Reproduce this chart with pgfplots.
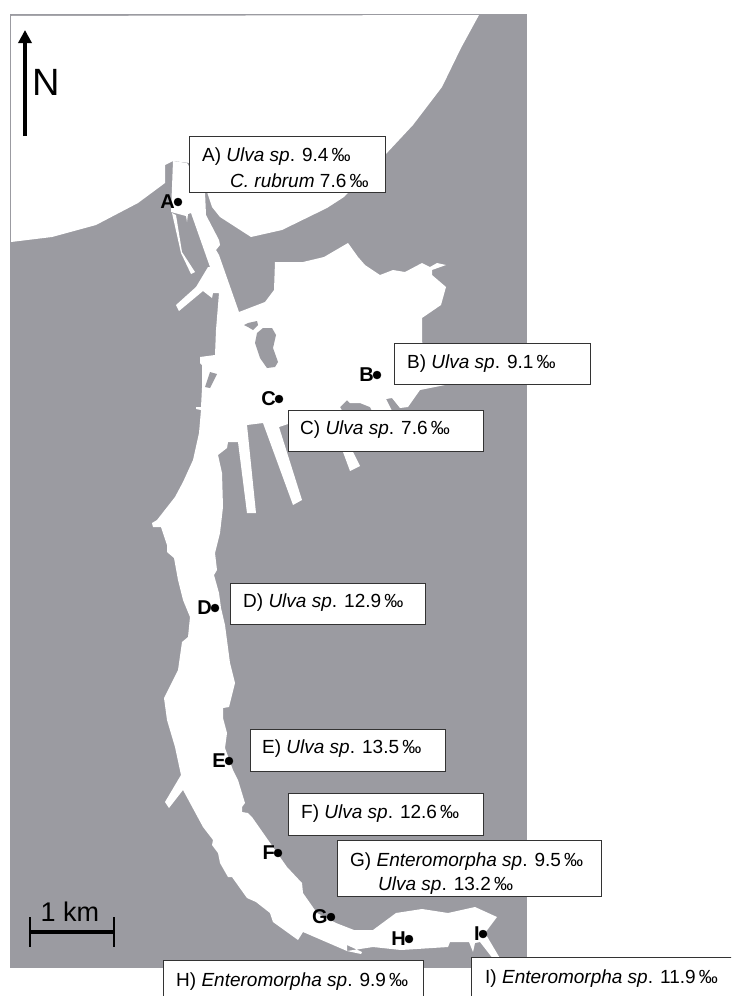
\documentclass[border=0pt]{standalone}
\usepackage{fontspec}
\setmainfont{Liberation Sans}
\usepackage{pgfplots}
\pgfplotsset{compat=1.18}
\usetikzlibrary{arrows.meta}
\definecolor{land}{RGB}{155,155,161}
\newcommand{\lab}{\fontsize{19}{22}\selectfont}
\newcommand{\pmil}{\,‰}
\begin{document}
\begin{tikzpicture}
\begin{axis}[
  scale only axis, width=731pt, height=996pt,
  xmin=0, xmax=731, ymin=0, ymax=996, y dir=reverse,
  hide axis,
]
% page and land
\addplot[fill=white, draw=none] coordinates {(0,0) (731,0) (731,996) (0,996)} --cycle;
\addplot[fill=land, draw=none] coordinates {(10,14) (527,14) (527,968) (10,968)} --cycle;
% sea
\addplot[fill=white, draw=none] coordinates {
  (11,16) (479,15) (461,48) (442,87) (413,125) (385,155) (344,197) (327,208)
  (282,230) (251,237) (220,217) (212,207) (207,192) (190,163) (173,161) (165,165)
  (165,183) (138,203) (96,225) (52,237) (11,242)
} --cycle;
% lagoon
\addplot[fill=white, draw=none] coordinates {
  (173,161) (172,187) (171,212) (186,216) (187,222) (188,214) (191,213) (210,267)
  (208,267) (196,287) (176,305) (179,311) (203,291) (212,298) (213,293) (219,293)
  (216,330) (215,355) (200,357) (200,363) (202,365) (202,388) (201,407) (196,407)
  (196,409) (201,410) (199,433) (193,460) (183,482) (175,497) (157,520) (152,523)
  (153,527) (161,527) (167,545) (167,552) (174,558) (178,580) (183,600) (190,617)
  (188,637) (182,642) (178,670) (164,698) (167,720) (175,747) (181,775) (165,802)
  (169,808) (183,790) (203,827) (213,840) (212,845) (218,853) (220,863) (228,877)
  (232,877) (247,898) (256,902) (270,913) (273,922) (298,940) (303,932) (347,951)
  (347,945) (362,952) (361,954) (347,951) (373,947) (401,950) (448,947) (450,942)
  (469,942) (473,952) (475,943) (480,942) (494,960) (501,960) (485,933) (497,917)
  (475,907) (448,913) (422,909) (396,913) (373,930) (354,930) (336,923) (317,913)
  (303,893) (302,883) (287,867) (273,847) (252,817) (248,813) (242,812) (242,807)
  (245,803) (238,780) (233,770) (225,748) (227,733) (223,718) (223,708) (229,707)
  (235,683) (230,663) (225,625) (221,608) (219,593) (214,575) (217,570) (215,553) (220,533)
  (223,507) (222,473) (218,455) (227,448) (228,442) (238,442) (247,513) (256,513)
  (247,425) (263,423) (293,505) (302,500) (279,427) (288,424) (338,425) (343,452)
  (350,471) (360,466) (353,452) (350,425) (340,407) (347,400) (350,403) (360,403)
  (370,407) (372,411) (392,411) (386,399) (392,398) (400,408) (408,407) (420,390)
  (445,385) (422,342) (422,318) (441,305) (446,287) (432,275) (432,270) (446,265)
  (437,263) (430,267) (422,263) (405,272) (393,270) (380,275) (365,265) (358,257)
  (348,243) (324,257) (303,262) (275,262) (274,290) (265,302) (239,312) (219,255)
  (216,250) (220,245) (219,240) (206,215) (205,192) (187,163)
} --cycle;
% thin canal beside the entrance
\addplot[fill=white, draw=none] coordinates {(172,213) (181,253) (191,274) (195,272) (182,252) (176,215)} --cycle;
% islands and piers
\addplot[fill=land, draw=none] coordinates {(244,325) (248,323) (257,321) (258,325) (253,330) (248,327)} --cycle;
\addplot[fill=land, draw=none] coordinates {(257,333) (263,328) (272,328) (276,335) (273,348) (278,362) (275,367) (267,368) (260,358) (255,343)} --cycle;
\addplot[fill=land, draw=none] coordinates {(210,372) (217,374) (210,388) (205,387)} --cycle;
% north arrow
\addplot[line width=3.5pt, black, -{Triangle[length=13pt,width=13pt]}] coordinates {(25,136) (25,30)};
\node[font=\fontsize{38}{40}\selectfont, anchor=center] at (axis cs:46,82) {N};
% scale bar
\addplot[line width=3.5pt, black] coordinates {(30,932) (114,932)};
\addplot[line width=2.2pt, black] coordinates {(30,917) (30,947)};
\addplot[line width=2.2pt, black] coordinates {(114,917) (114,947)};
\node[font=\fontsize{27}{29}\selectfont, anchor=center] at (axis cs:70,912) {1 km};
% sampling stations
\addplot[only marks, mark=*, mark size=4pt, black,
  point meta=explicit symbolic, nodes near coords,
  nodes near coords style={anchor=east, inner sep=0pt, xshift=-3pt, font=\fontsize{20}{22}\selectfont\bfseries, black},
] table[meta=lab] {
x y lab
178 202 A
377 375 B
279 399 C
215 608 D
229 761 E
278 853 F
331 917 G
409 939 H
483 934 I
};
% label boxes
\draw[fill=white, line width=1pt, draw=black!80] (axis cs:189,136) rectangle (axis cs:385,192);
\draw[fill=white, line width=1pt, draw=black!80] (axis cs:394,343) rectangle (axis cs:590,384);
\draw[fill=white, line width=1pt, draw=black!80] (axis cs:288,410) rectangle (axis cs:483,451);
\draw[fill=white, line width=1pt, draw=black!80] (axis cs:230,583) rectangle (axis cs:425,624);
\draw[fill=white, line width=1pt, draw=black!80] (axis cs:250,729) rectangle (axis cs:445,771);
\draw[fill=white, line width=1pt, draw=black!80] (axis cs:288,793) rectangle (axis cs:483,835);
\draw[fill=white, line width=1pt, draw=black!80] (axis cs:337,840) rectangle (axis cs:601,896);
\draw[fill=white, line width=1pt, draw=black!80] (axis cs:163,960) rectangle (axis cs:423,1000);
\draw[fill=white, line width=1pt, draw=black!80] (axis cs:471,957) rectangle (axis cs:740,1000);
\node[anchor=west, inner sep=0pt, font=\lab] at (axis cs:202,157) {A) \textit{Ulva sp}. 9.4\pmil};
\node[anchor=west, inner sep=0pt, font=\lab] at (axis cs:230,180.5) {\textit{C. rubrum} 7.6\pmil};
\node[anchor=west, inner sep=0pt, font=\lab] at (axis cs:407,364) {B) \textit{Ulva sp}. 9.1\pmil};
\node[anchor=west, inner sep=0pt, font=\lab] at (axis cs:300,430) {C) \textit{Ulva sp}. 7.6\pmil};
\node[anchor=west, inner sep=0pt, font=\lab] at (axis cs:243,603) {D) \textit{Ulva sp}. 12.9\pmil};
\node[anchor=west, inner sep=0pt, font=\lab] at (axis cs:262,749) {E) \textit{Ulva sp}. 13.5\pmil};
\node[anchor=west, inner sep=0pt, font=\lab] at (axis cs:301,814) {F) \textit{Ulva sp}. 12.6\pmil};
\node[anchor=west, inner sep=0pt, font=\lab] at (axis cs:350,862) {G) \textit{Enteromorpha sp}. 9.5\pmil};
\node[anchor=west, inner sep=0pt, font=\lab] at (axis cs:378,886) {\textit{Ulva sp}. 13.2\pmil};
\node[anchor=west, inner sep=0pt, font=\lab] at (axis cs:176,982) {H) \textit{Enteromorpha sp}. 9.9\pmil};
\node[anchor=west, inner sep=0pt, font=\lab] at (axis cs:485,979) {I) \textit{Enteromorpha sp}. 11.9\pmil};
\end{axis}
\end{tikzpicture}
\end{document}
